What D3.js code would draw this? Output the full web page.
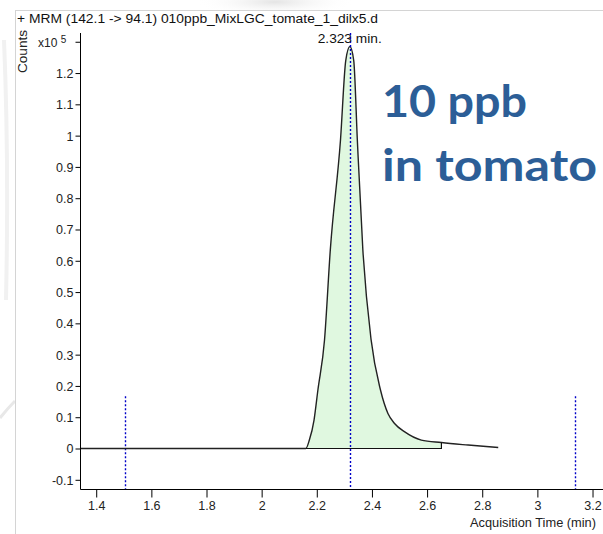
<!DOCTYPE html>
<html>
<head>
<meta charset="utf-8">
<script src="https://cdn.jsdelivr.net/npm/d3@7"></script>
<style>
  html, body { margin: 0; padding: 0; background: #fff; overflow: hidden; }
  svg { display: block; }
</style>
</head>
<body>
<svg id="chart" width="603" height="534"></svg>
<script>
// ---- data (counts in x10^5) ----
const times  = [1.343, 1.6, 1.8, 2.0, 2.16, 2.173, 2.19, 2.204, 2.228, 2.249, 2.286, 2.305, 2.32, 2.334, 2.347, 2.367, 2.397, 2.431, 2.458, 2.482, 2.519, 2.579, 2.652, 2.749, 2.858];
const counts = [0, 0, 0, 0, 0, 0.027, 0.091, 0.187, 0.347, 0.635, 0.987, 1.24, 1.285, 1.24, 0.987, 0.635, 0.347, 0.187, 0.112, 0.08, 0.053, 0.027, 0.019, 0.011, 0.003];
const xTicks = [1.4, 1.6, 1.8, 2.0, 2.2, 2.4, 2.6, 2.8, 3.0, 3.2];
const xTickLabels = ["1.4", "1.6", "1.8", "2", "2.2", "2.4", "2.6", "2.8", "3", "3.2"];
const yTicks = [-0.1, 0, 0.1, 0.2, 0.3, 0.4, 0.5, 0.6, 0.7, 0.8, 0.9, 1.0, 1.1, 1.2, 1.3];
const yTickLabels = ["-0.1", "0", "0.1", "0.2", "0.3", "0.4", "0.5", "0.6", "0.7", "0.8", "0.9", "1", "1.1", "1.2", ""];
const integration = [2.16, 2.652];
const markerTimes = [1.504, 3.135];
const markerTop = 0.167;
const retentionTime = 2.323;
const titleText = "+ MRM (142.1 -> 94.1) 010ppb_MixLGC_tomate_1_dilx5.d";
const noteLines = ["10 ppb", "in tomato"];

const data = times.map((t, i) => ({ t, c: counts[i] }));

const svg = d3.select("#chart");
const plot = { left: 80.5, right: 603, top: 33, bottom: 489.5 };

const x = d3.scaleLinear().domain([1.343, 3.238]).range([plot.left, plot.right]);
const y = d3.scaleLinear().domain([-0.131, 1.328]).range([plot.bottom, plot.top]);

// ---- background / watermark ----
const defs = svg.append("defs");
const rg = defs.append("radialGradient").attr("id", "wm");
rg.append("stop").attr("offset", "0%").attr("stop-color", "#e4e4e4");
rg.append("stop").attr("offset", "100%").attr("stop-color", "#ffffff").attr("stop-opacity", 0);
svg.append("ellipse").attr("cx", 275).attr("cy", 2).attr("rx", 80).attr("ry", 14).attr("fill", "url(#wm)");
svg.append("path").attr("d", "M0,418 Q8,408 15,401").attr("fill", "none").attr("stroke", "#e8e8e8").attr("stroke-width", 3);
svg.append("path").attr("d", "M4,40 Q9,160 6,300").attr("fill", "none").attr("stroke", "#f1f1f1").attr("stroke-width", 4);

// panel
svg.append("rect").attr("x", 15.5).attr("y", 10.5).attr("width", 600).attr("height", 540)
  .attr("fill", "#fff").attr("stroke", "#d4d4d4").attr("stroke-width", 1);

const fontFam = "Liberation Sans, Arial, sans-serif";

// ---- title ----
svg.append("text").attr("x", 17).attr("y", 23)
  .attr("font-family", fontFam).attr("font-size", 12.5)
  .attr("fill", "#111")
  .attr("textLength", 361).attr("lengthAdjust", "spacingAndGlyphs")
  .text(titleText);

// ---- clip ----
defs.append("clipPath").attr("id", "clip").append("rect")
  .attr("x", plot.left).attr("y", plot.top).attr("width", plot.right - plot.left).attr("height", plot.bottom - plot.top);

const g = svg.append("g").attr("clip-path", "url(#clip)");

// ---- integrated area ----
const integ = data.filter(d => d.t >= integration[0] && d.t <= integration[1]);
g.append("path").datum(integ)
  .attr("d", d3.area().x(d => x(d.t)).y0(y(0)).y1(d => y(d.c)).curve(d3.curveMonotoneX))
  .attr("fill", "#e0f8e0");

// ---- markers ----
const dotColor = "#0000c8";
markerTimes.forEach(t => {
  g.append("line").attr("x1", Math.round(x(t)) + 0.5).attr("x2", Math.round(x(t)) + 0.5)
    .attr("y1", y(markerTop)).attr("y2", plot.bottom)
    .attr("stroke", dotColor).attr("stroke-width", 1.4).attr("stroke-dasharray", "2,2");
});

// ---- data curve ----
g.append("path").datum(data)
  .attr("d", d3.line().x(d => x(d.t)).y(d => y(d.c)).curve(d3.curveMonotoneX))
  .attr("fill", "none").attr("stroke", "#222").attr("stroke-width", 1.4);

// integration baseline and end drop
const endC = counts[times.indexOf(integration[1])];
g.append("path")
  .attr("d", `M${x(integration[0])},${y(0)}H${x(integration[1])}V${y(endC)}`)
  .attr("fill", "none").attr("stroke", "#111").attr("stroke-width", 1.2);

// retention line (spans over the label)
svg.append("line").attr("x1", Math.round(x(retentionTime)) - 0.5).attr("x2", Math.round(x(retentionTime)) - 0.5)
  .attr("y1", 33).attr("y2", plot.bottom)
  .attr("stroke", dotColor).attr("stroke-width", 1.4).attr("stroke-dasharray", "2,2");

svg.append("text").attr("x", x(retentionTime) - 1).attr("y", 43)
  .attr("text-anchor", "middle")
  .attr("font-family", fontFam).attr("font-size", 12)
  .attr("fill", "#111").attr("textLength", 64).attr("lengthAdjust", "spacingAndGlyphs")
  .text(retentionTime + " min.");

// ---- axes ----
const yAxis = d3.axisLeft(y).tickValues(yTicks).tickSize(5).tickPadding(2)
  .tickFormat((d, i) => yTickLabels[i]);
const ya = svg.append("g").attr("transform", `translate(${plot.left},0)`).call(yAxis);
ya.select(".domain").attr("d", `M0,${plot.top}V${plot.bottom}`).attr("stroke", "#000");
ya.selectAll(".tick line").attr("stroke", "#000");
ya.selectAll(".tick text").attr("font-family", fontFam).attr("font-size", 12.5).attr("fill", "#222").attr("dy", "0.35em");

const xAxis = d3.axisBottom(x).tickValues(xTicks).tickSize(8).tickPadding(4)
  .tickFormat((d, i) => xTickLabels[i]);
const xa = svg.append("g").attr("transform", `translate(0,${plot.bottom})`).call(xAxis);
xa.select(".domain").attr("d", `M${plot.left},0H${plot.right}`).attr("stroke", "#000");
xa.selectAll(".tick line").attr("stroke", "#000");
xa.selectAll(".tick text").attr("font-family", fontFam).attr("font-size", 12.5).attr("fill", "#222");

// exponent label
const ex = svg.append("text").attr("x", 38).attr("y", 47)
  .attr("font-family", fontFam).attr("font-size", 12).attr("fill", "#222");
ex.append("tspan").text("x10 ");
ex.append("tspan").attr("font-size", 10).attr("dy", -4).text("5");

// axis titles
svg.append("text").attr("transform", "translate(27,73) rotate(-90)")
  .attr("font-family", fontFam).attr("font-size", 12).attr("fill", "#222")
  .attr("textLength", 43).attr("lengthAdjust", "spacingAndGlyphs")
  .text("Counts");
svg.append("text").attr("x", 470).attr("y", 527)
  .attr("font-family", fontFam).attr("font-size", 13.5).attr("fill", "#222")
  .attr("textLength", 126).attr("lengthAdjust", "spacingAndGlyphs")
  .text("Acquisition Time (min)");

// ---- annotation ----
noteLines.forEach((s, i) => {
  svg.append("text").attr("x", 382).attr("y", [117, 181][i])
    .attr("font-family", "Lato, 'Open Sans', sans-serif").attr("font-weight", "bold")
    .attr("font-size", 43).attr("fill", "#2c5e97")
    .attr("textLength", [145, 215][i]).attr("lengthAdjust", "spacingAndGlyphs")
    .text(s);
});
</script>
</body>
</html>
